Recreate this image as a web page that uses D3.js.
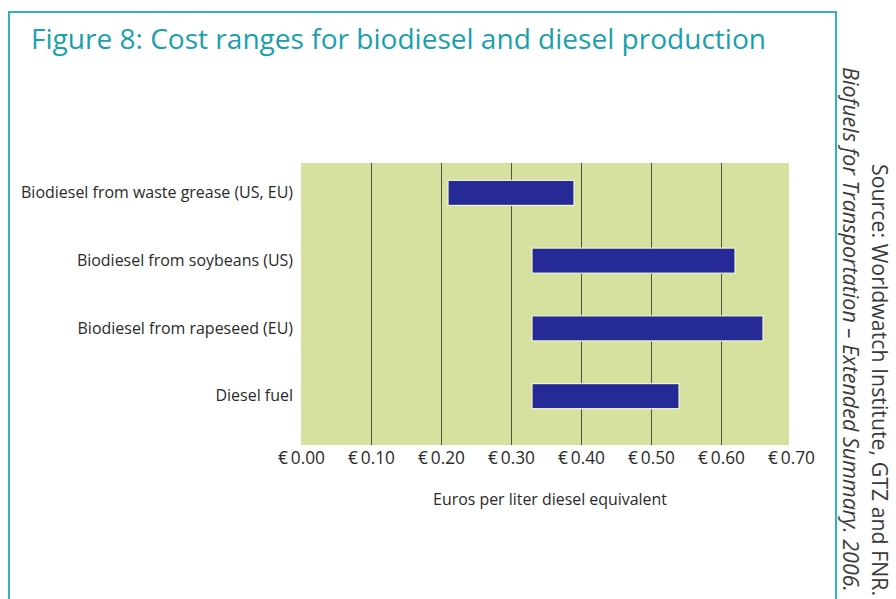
<!DOCTYPE html>
<html>
<head>
<meta charset="utf-8">
<script src="https://cdn.jsdelivr.net/npm/d3@7"></script>
<style>
  html, body { margin: 0; padding: 0; background: #ffffff; }
  svg { display: block; }
  text { font-family: "Open Sans", "Noto Sans", sans-serif; }
</style>
</head>
<body>
<svg id="chart" width="896" height="599"></svg>
<script>
// ---- data ----
const categories = [
  "Biodiesel from waste grease (US, EU)",
  "Biodiesel from soybeans (US)",
  "Biodiesel from rapeseed (EU)",
  "Diesel fuel"
];
const lowCost  = [0.21, 0.33, 0.33, 0.33];
const highCost = [0.39, 0.62, 0.66, 0.54];
const tickValues = [0.00, 0.10, 0.20, 0.30, 0.40, 0.50, 0.60, 0.70];
const gridValues = [0.10, 0.20, 0.30, 0.40, 0.50, 0.60];
const titleText = "Figure 8: Cost ranges for biodiesel and diesel production";
const axisTitle = "Euros per liter diesel equivalent";
const sourceLine1 = "Source: Worldwatch Institute, GTZ and FNR.";
const sourceLine2 = "Biofuels for Transportation \u2013 Extended Summary. 2006.";

const rows = categories.map((c, i) => ({ cat: c, lo: lowCost[i], hi: highCost[i] }));

const svg = d3.select("#chart");

// fit text to a target width by adjusting font size
function fit(sel, width) {
  const node = sel.node();
  const fs = parseFloat(sel.attr("font-size"));
  const w = node.getComputedTextLength();
  if (w > 0) sel.attr("font-size", (fs * width / w).toFixed(2));
  return sel;
}

// frame
svg.append("path")
  .attr("d", "M9,600 L9,12 L836,12 L836,600")
  .attr("fill", "none")
  .attr("stroke", "#2fb1c6")
  .attr("stroke-width", 2);

// title
fit(svg.append("text")
  .attr("x", 31).attr("y", 49)
  .attr("font-size", 28)
  .attr("fill", "#1a9fae")
  .text(titleText), 735);

// plot area
const plot = { left: 301, right: 789, top: 163, bottom: 445 };
const x = d3.scaleLinear().domain([0, 0.7]).range([plot.left, plot.left + 0.7 * 700]);
const y = d3.scaleBand().domain(categories).range([159, 430]).paddingInner(0.63).paddingOuter(0.315);

svg.append("rect")
  .attr("x", plot.left).attr("y", plot.top)
  .attr("width", plot.right - plot.left).attr("height", plot.bottom - plot.top)
  .attr("fill", "#d6e09f");

// gridlines
const grid = svg.append("g")
  .attr("transform", `translate(0,${plot.bottom})`)
  .call(d3.axisBottom(x).tickValues(gridValues).tickSize(-(plot.bottom - plot.top)).tickFormat(""));
grid.select(".domain").remove();
grid.selectAll(".tick line").attr("stroke", "#3a3a30").attr("stroke-width", 1).attr("opacity", 0.85);

// bars
svg.append("g").selectAll("rect")
  .data(rows)
  .join("rect")
  .attr("x", d => x(d.lo))
  .attr("y", d => y(d.cat))
  .attr("width", d => x(d.hi) - x(d.lo))
  .attr("height", y.bandwidth())
  .attr("fill", "#262a96")
  .attr("stroke", "#f0f4d4")
  .attr("stroke-width", 1.2);

// x axis tick labels
const xAxis = svg.append("g")
  .attr("transform", `translate(0,${plot.bottom})`)
  .call(d3.axisBottom(x).tickValues(tickValues).tickSize(0).tickPadding(7)
    .tickFormat(d => "\u20ac\u2009" + d3.format(".2f")(d)));
xAxis.select(".domain").remove();
const xTexts = xAxis.selectAll("text")
  .attr("font-family", "\"Open Sans\", sans-serif")
  .attr("font-size", 14)
  .attr("fill", "#2a2a2a");
const tickW = xTexts.nodes()[1].getComputedTextLength();
xTexts.attr("font-size", (14 * 47 / tickW).toFixed(2));

// y category labels
const yAxis = svg.append("g")
  .attr("transform", `translate(${plot.left},0)`)
  .call(d3.axisLeft(y).tickSize(0).tickPadding(8));
yAxis.select(".domain").remove();
const yTexts = yAxis.selectAll("text")
  .attr("font-family", "\"Open Sans\", sans-serif")
  .attr("font-size", 14)
  .attr("fill", "#2a2a2a");
// scale all category labels so the longest spans the reference width
const firstW = yTexts.nodes()[0].getComputedTextLength();
yTexts.attr("font-size", (14 * 272 / firstW).toFixed(2));

// axis title
fit(svg.append("text")
  .attr("x", 550).attr("y", 505)
  .attr("text-anchor", "middle")
  .attr("font-size", 13.5)
  .attr("fill", "#2a2a2a")
  .text(axisTitle), 234);

// source lines (rotated)
fit(svg.append("text")
  .attr("transform", "translate(872,596) rotate(90)")
  .attr("text-anchor", "end")
  .attr("font-size", 19)
  .attr("fill", "#3a3a3a")
  .text(sourceLine1), 432);
fit(svg.append("text")
  .attr("transform", "translate(843,592) rotate(90)")
  .attr("text-anchor", "end")
  .attr("font-size", 19)
  .attr("font-style", "italic")
  .attr("fill", "#3a3a3a")
  .text(sourceLine2), 525);
</script>
</body>
</html>
